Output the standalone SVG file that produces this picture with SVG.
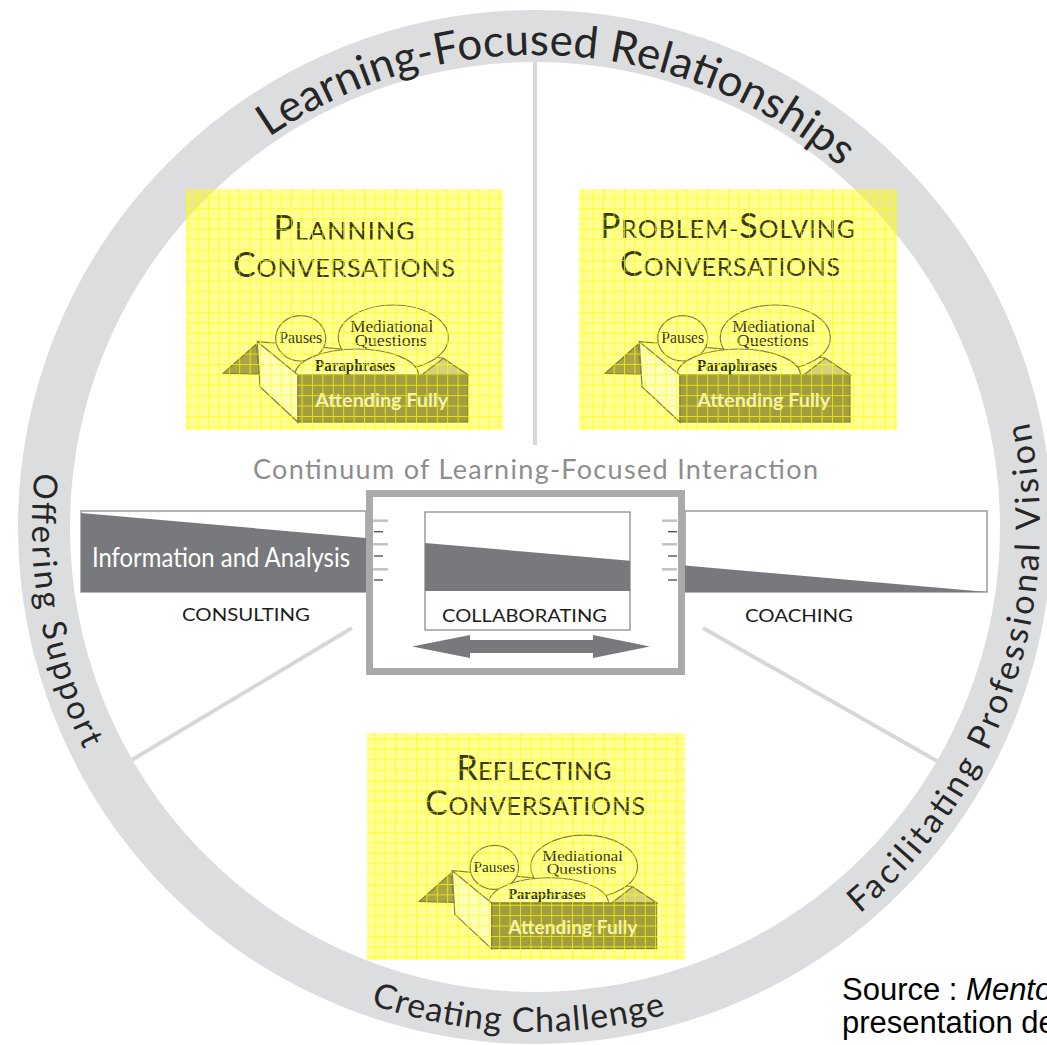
<svg xmlns="http://www.w3.org/2000/svg" xmlns:xlink="http://www.w3.org/1999/xlink" width="1047" height="1045" viewBox="0 0 1047 1045">
<style>
.ring{fill:none;stroke:#dcdddf;stroke-width:52}
.spoke{stroke:#d6d7d8;stroke-width:4;fill:none}
.rt{font-family:Lato,"Open Sans",sans-serif;fill:#262626}
.hl{fill:#ffff00;fill-opacity:0.42}
.grid{fill:url(#grid)}
.ttl{font-family:Lato,"Open Sans",sans-serif;fill:#3a3a10;text-anchor:middle}
.lbl{font-family:"Liberation Serif",serif;fill:#34340e;text-anchor:middle;font-size:16px}
.ol{stroke:#85822e;stroke-width:1.2}
.cap{font-family:Lato,"Open Sans",sans-serif;fill:#1c1c1c;font-size:18px}
.bar{fill:#77797c}
.box{fill:#fff;stroke:#8c8c8c;stroke-width:1.3}
.tkl{stroke:#c2c2c2;stroke-width:2.5}
.tks{stroke:#555;stroke-width:1.4}
.src{font-family:"Liberation Sans",Arial,sans-serif;font-size:31px;fill:#000}
</style>
<defs>
<pattern id="grid" width="10.4" height="10.4" patternUnits="userSpaceOnUse">
<path d="M0,0.5H10.4M0.5,0V10.4" stroke="#ffff00" stroke-opacity="0.7" stroke-width="1" fill="none"/>
</pattern>
<path id="arcTop" d="M70.2,445.1 A472,472 0 0 1 1005.9,494.1"/>
<path id="arcLeft" d="M283.5,91.4 A503,503 0 0 0 447.7,1022.4"/>
<path id="arcBottom" d="M60.5,699.7 A505,505 0 0 0 996.3,732.4"/>
<path id="arcRight" d="M535,1032 A505,505 0 0 0 845.9,129.1"/>
<g id="fig">
<line x1="-40.7" y1="-33.3" x2="145" y2="-17" class="ol"/>
<polygon points="123.7,0 145.3,-16.7 170.3,0" fill="#d6d27a" class="ol"/>
<ellipse cx="2.7" cy="-36.7" rx="25" ry="22.7" fill="#ffff94" class="ol"/>
<ellipse cx="95.3" cy="-37.5" rx="55" ry="32.5" fill="#ffff94" class="ol"/>
<path d="M-3,0 A61.7,26 0 0 1 120.4,0 Z" fill="#ffff9c" class="ol"/>
<polygon points="-74.7,-1.7 -42,-30.7 -38.7,-0.7" fill="#aaa446" class="ol"/>
<polygon points="-40.7,-33.3 0,0 0,47.3 -38,11.7" fill="#ffffbc" class="ol"/>
<rect x="0" y="0" width="170" height="47" fill="#a29e40" class="ol"/>
<text class="lbl" x="2.7" y="-32" textLength="43" lengthAdjust="spacingAndGlyphs">Pauses</text>
<text class="lbl" x="93.7" y="-43" textLength="83" lengthAdjust="spacingAndGlyphs">Mediational</text>
<text class="lbl" x="92.7" y="-29.5" textLength="72" lengthAdjust="spacingAndGlyphs">Questions</text>
<text class="lbl" x="57" y="-4.5" textLength="80" lengthAdjust="spacingAndGlyphs" font-weight="bold">Paraphrases</text>
<text x="83.7" y="32" text-anchor="middle" font-family="Lato,'Open Sans',sans-serif" font-weight="bold" font-size="19" fill="#f4f2b6" textLength="133" lengthAdjust="spacingAndGlyphs">Attending Fully</text>
</g>
</defs>
<rect width="1047" height="1045" fill="#fff"/>
<g id="connectors">
<line class="spoke" x1="535" y1="50" x2="535" y2="445"/>
<line class="spoke" x1="352" y1="628" x2="110" y2="773"/>
<line class="spoke" x1="703" y1="628" x2="958" y2="773"/>
</g>
<g id="ring">
<circle class="ring" cx="535" cy="527" r="491"/>
<text class="rt" font-size="44"><textPath href="#arcTop" xlink:href="#arcTop" startOffset="50%" text-anchor="middle" textLength="615">Learning-Focused Relationships</textPath></text>
<text class="rt" font-size="33"><textPath href="#arcLeft" xlink:href="#arcLeft" startOffset="50%" text-anchor="middle" textLength="285">Offering Support</textPath></text>
<text class="rt" font-size="34"><textPath href="#arcBottom" xlink:href="#arcBottom" startOffset="50%" text-anchor="middle" textLength="300">Creating Challenge</textPath></text>
<text class="rt" font-size="34"><textPath href="#arcRight" xlink:href="#arcRight" startOffset="50%" text-anchor="middle" textLength="546">Facilitating Professional Vision</textPath></text>
</g>
<g id="planning">
<rect class="hl" x="186" y="189" width="317" height="241"/>
<text class="ttl" x="344" y="240" textLength="141"><tspan font-size="34">P</tspan><tspan font-size="25">LANNING</tspan></text>
<text class="ttl" x="344" y="277" textLength="222"><tspan font-size="34">C</tspan><tspan font-size="25">ONVERSATIONS</tspan></text>
<use href="#fig" xlink:href="#fig" transform="translate(298,375)"/>
<rect class="grid" x="186" y="189" width="317" height="241"/>
</g>
<g id="problem-solving">
<rect class="hl" x="579" y="189" width="318" height="241"/>
<text class="ttl" x="727.5" y="238" textLength="255"><tspan font-size="34">P</tspan><tspan font-size="25">ROBLEM-</tspan><tspan font-size="34">S</tspan><tspan font-size="25">OLVING</tspan></text>
<text class="ttl" x="730" y="276" textLength="220"><tspan font-size="34">C</tspan><tspan font-size="25">ONVERSATIONS</tspan></text>
<use href="#fig" xlink:href="#fig" transform="translate(680,375)"/>
<rect class="grid" x="579" y="189" width="318" height="241"/>
</g>
<g id="reflecting">
<rect class="hl" x="367" y="733" width="318" height="227"/>
<text class="ttl" x="534" y="780" textLength="155"><tspan font-size="34">R</tspan><tspan font-size="25">EFLECTING</tspan></text>
<text class="ttl" x="535" y="815" textLength="220"><tspan font-size="34">C</tspan><tspan font-size="25">ONVERSATIONS</tspan></text>
<use href="#fig" xlink:href="#fig" transform="translate(491.7,903) scale(0.97)"/>
<rect class="grid" x="367" y="733" width="318" height="227"/>
</g>
<g id="continuum">
<text x="535.5" y="479" text-anchor="middle" font-family="Lato,'Open Sans',sans-serif" font-size="27" fill="#8d8d8d" textLength="565">Continuum of Learning-Focused Interaction</text>
<rect class="box" x="81" y="511" width="285" height="81"/>
<polygon class="bar" points="81,513 366,538 366,592 81,592"/>
<text x="92" y="567" font-family="Lato,'Open Sans',sans-serif" font-size="27" fill="#fff" textLength="258" lengthAdjust="spacingAndGlyphs">Information and Analysis</text>
<rect class="box" x="685" y="511" width="302" height="81"/>
<polygon class="bar" points="685,565.6 987,592 685,592"/>
<text class="cap" x="182" y="621" textLength="128" lengthAdjust="spacingAndGlyphs">CONSULTING</text>
<text class="cap" x="745" y="622" textLength="108" lengthAdjust="spacingAndGlyphs">COACHING</text>
</g>
<g id="collaborating">
<rect x="369.5" y="493.5" width="312" height="178" fill="#fff" stroke="#a8aaac" stroke-width="7"/>
<rect class="box" x="425" y="512" width="205" height="118"/>
<polygon class="bar" points="425,542.9 630,560.8 630,591 425,591"/>
<text class="cap" x="442" y="622" font-size="19" textLength="165" lengthAdjust="spacingAndGlyphs">COLLABORATING</text>
<path class="bar" fill="#6f7173" d="M412,646.5 L470,635 L470,640 L593,640 L593,635 L650,646.5 L593,658 L593,653 L470,653 L470,658 Z"/>
<line class="tkl" x1="373" y1="520.7" x2="388" y2="520.7"/>
<line class="tks" x1="374" y1="531.7" x2="383" y2="531.7"/>
<line class="tkl" x1="373" y1="544.3" x2="388" y2="544.3"/>
<line class="tks" x1="374" y1="556" x2="383" y2="556"/>
<line class="tkl" x1="373" y1="569.3" x2="388" y2="569.3"/>
<line class="tks" x1="374" y1="580" x2="383" y2="580"/>
<line class="tkl" x1="662" y1="520.7" x2="677" y2="520.7"/>
<line class="tks" x1="668" y1="531.7" x2="677" y2="531.7"/>
<line class="tkl" x1="662" y1="544.3" x2="677" y2="544.3"/>
<line class="tks" x1="668" y1="556" x2="677" y2="556"/>
<line class="tkl" x1="662" y1="569.3" x2="677" y2="569.3"/>
<line class="tks" x1="668" y1="580" x2="677" y2="580"/>
</g>
<g id="source">
<text class="src" x="842" y="1000">Source : <tspan font-style="italic">Mento</tspan></text>
<text class="src" x="842" y="1033">presentation de</text>
</g>
</svg>
